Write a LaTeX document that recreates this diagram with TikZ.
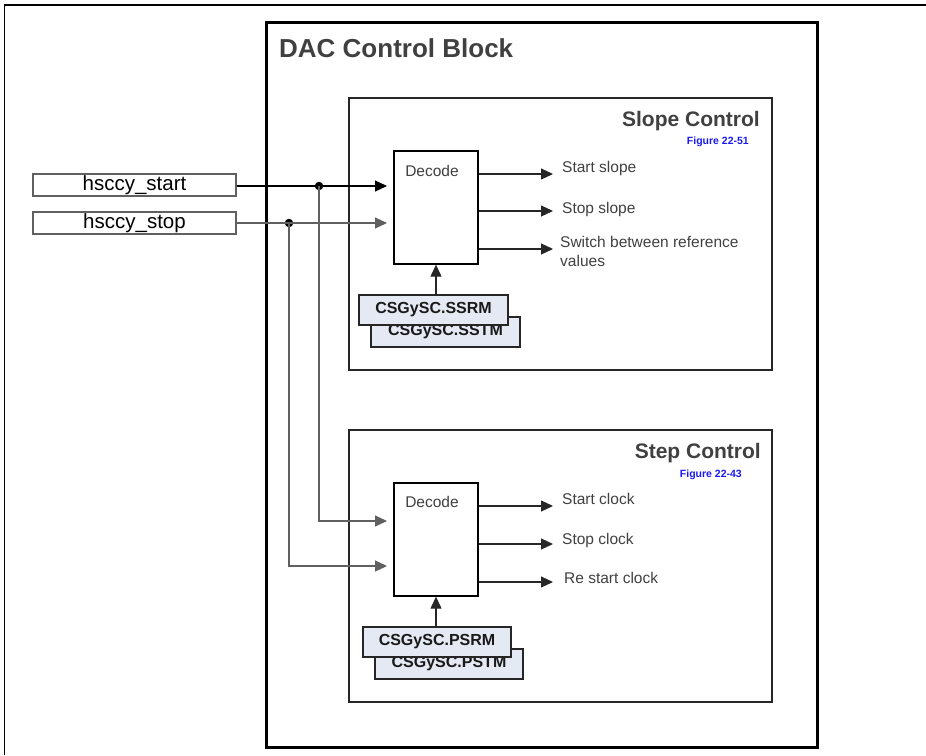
\documentclass[tikz,border=0pt]{standalone}
\usepackage{fontspec}
\setmainfont{Liberation Sans}
\usetikzlibrary{arrows.meta}
\definecolor{txtgray}{HTML}{404040}
\definecolor{linegray}{HTML}{606060}
\definecolor{regfill}{HTML}{E4E9F3}
\definecolor{figblue}{HTML}{1A1AF0}
\begin{document}
\begin{tikzpicture}[x=1pt,y=-1pt,
  tip/.style={-{Triangle[length=12pt,width=11pt]}},
  bigbox/.style={draw=black,line width=3pt,minimum width=551pt,minimum height=725pt,inner sep=0pt},
  ctrlbox/.style={draw=black!85,line width=1.8pt,minimum width=423pt,minimum height=272pt,inner sep=0pt},
  decbox/.style={draw=black,line width=1.3pt,fill=white,minimum width=84pt,minimum height=113pt,inner sep=0pt},
  regbox/.style={draw=black!85,line width=2pt,fill=regfill,minimum width=149pt,minimum height=30pt,inner sep=0pt,font=\fontsize{16}{18}\selectfont\bfseries,text=black!90},
  sigbox/.style={draw=linegray,line width=1.1pt,minimum width=203pt,minimum height=22pt,inner sep=0pt,font=\fontsize{20.5}{22}\selectfont,text=black},
  lbl/.style={anchor=west,inner sep=0pt,font=\fontsize{15.5}{19}\selectfont,text=txtgray,align=left},
  title/.style={inner sep=0pt,font=\fontsize{21}{24}\selectfont\bfseries,text=txtgray},
  figref/.style={inner sep=0pt,anchor=east,font=\fontsize{10.5}{12}\selectfont\bfseries,text=figblue},
  junction/.style={circle,fill=black,inner sep=0pt,minimum size=8.5pt}
]
\useasboundingbox (0,0) rectangle (926,755);
% outer frame
\draw[line width=1.5pt] (926,5) -- (4.5,5) -- (4.5,755);

% main blocks
\node[bigbox] (dac) at (541.5,384.5) {};
\node[inner sep=0pt,anchor=west,font=\fontsize{26}{30}\selectfont\bfseries,text=txtgray] (dactitle) at (279,48) {DAC Control Block};

\node[ctrlbox] (slope) at (560.5,234) {};
\node[title,anchor=east] (slopetitle) at (760,121) {Slope Control};
\node[figref] (slopefig) at (749,142) {Figure 22-51};

\node[ctrlbox] (step) at (560.5,566) {};
\node[title,anchor=east] (steptitle) at (761,453) {Step Control};
\node[figref] (stepfig) at (742,475) {Figure 22-43};

% decode boxes
\node[decbox] (dec1) at (436,207.5) {};
\node[inner sep=0pt,font=\fontsize{15.5}{18}\selectfont,text=txtgray] (dec1t) at (432,171) {Decode};
\node[decbox] (dec2) at (436,539.5) {};
\node[inner sep=0pt,font=\fontsize{15.5}{18}\selectfont,text=txtgray] (dec2t) at (432,502) {Decode};

% register boxes
\node[regbox] (sstm) at (445.5,332) {CSGySC.SSTM};
\node[regbox] (ssrm) at (433.5,310) {CSGySC.SSRM};
\node[regbox,minimum width=148pt] (pstm) at (449,663.5) {CSGySC.PSTM};
\node[regbox,minimum width=148pt] (psrm) at (437,642) {CSGySC.PSRM};

\draw[tip,line width=1.1pt,draw=black!85] (ssrm.north -| dec1.south) -- (dec1.south);
\draw[tip,line width=1.1pt,draw=black!85] (psrm.north -| dec2.south) -- (dec2.south);

% input signals
\node[sigbox] (hstart) at (134.5,185) {hsccy\_start};
\node[sigbox] (hstop) at (134.5,223) {hsccy\_stop};

\coordinate (in1a) at (387,186);
\coordinate (in1b) at (387,223);
\coordinate (in2a) at (387,521);
\coordinate (in2b) at (387,566);
\node[junction] (d1) at (319,186) {};
\node[junction] (d2) at (289,223) {};

\draw[tip,line width=1.2pt,draw=black] (hstart.east |- in1a) -- (in1a);
\draw[tip,line width=1.2pt,draw=linegray] (hstop.east |- in1b) -- (in1b);
\draw[tip,line width=1.2pt,draw=linegray] (d1.center) |- (in2a);
\draw[tip,line width=1.2pt,draw=linegray] (d2.center) |- (in2b);

% slope outputs
\coordinate (o1a) at (553,174);
\coordinate (o1b) at (553,211);
\coordinate (o1c) at (553,249);
\draw[tip,line width=1.1pt,draw=black!85] (dec1.east |- o1a) -- (o1a);
\draw[tip,line width=1.1pt,draw=black!85] (dec1.east |- o1b) -- (o1b);
\draw[tip,line width=1.1pt,draw=black!85] (dec1.east |- o1c) -- (o1c);
\node[lbl] (l1a) at (562,168) {Start slope};
\node[lbl] (l1b) at (562,209) {Stop slope};
\node[lbl] (l1c) at (560,251) {Switch between reference\\values};

% step outputs
\coordinate (o2a) at (553,506);
\coordinate (o2b) at (553,544);
\coordinate (o2c) at (553,582);
\draw[tip,line width=1.1pt,draw=black!85] (dec2.east |- o2a) -- (o2a);
\draw[tip,line width=1.1pt,draw=black!85] (dec2.east |- o2b) -- (o2b);
\draw[tip,line width=1.1pt,draw=black!85] (dec2.east |- o2c) -- (o2c);
\node[lbl] (l2a) at (562,499) {Start clock};
\node[lbl] (l2b) at (562,540) {Stop clock};
\node[lbl] (l2c) at (564,578) {Re start clock};
\end{tikzpicture}
\end{document}
